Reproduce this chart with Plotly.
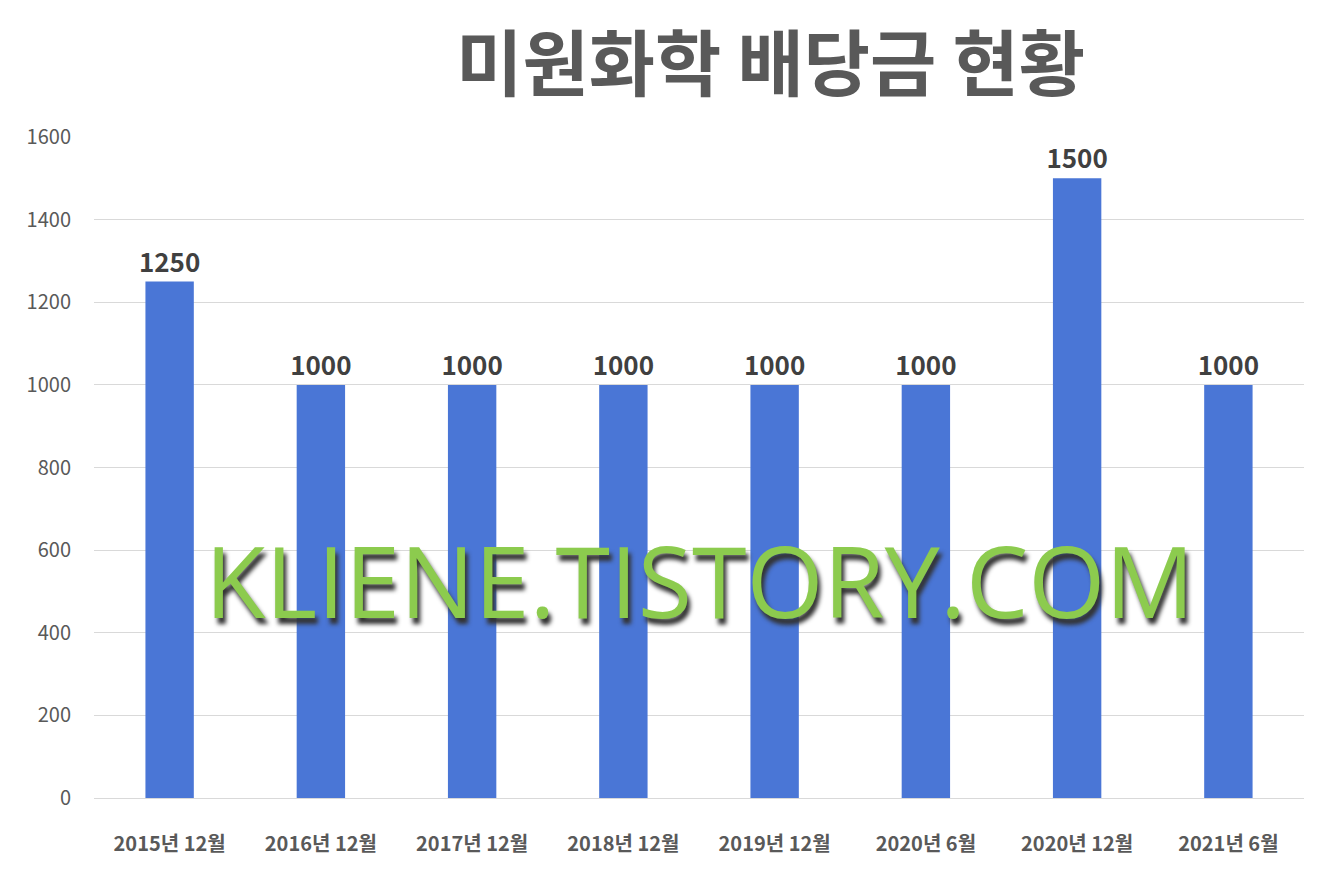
import plotly.graph_objects as go

periods = ["2015년 12월", "2016년 12월", "2017년 12월", "2018년 12월",
           "2019년 12월", "2020년 6월", "2020년 12월", "2021년 6월"]
dividends = [1250, 1000, 1000, 1000, 1000, 1000, 1500, 1000]
y_ticks = [0, 200, 400, 600, 800, 1000, 1200, 1400, 1600]

font = "Noto Sans CJK KR"

fig = go.Figure(go.Bar(
    x=periods, y=dividends,
    marker=dict(color="#4A76D6", line=dict(width=0)),
    text=dividends, textposition="outside", cliponaxis=False,
    constraintext="none",
    textfont=dict(family=font, size=26, color="#404040", weight="bold"),
))

fig.update_layout(
    width=1338, height=881,
    margin=dict(l=86, r=42, t=129, b=91),
    paper_bgcolor="white", plot_bgcolor="white",
    bargap=0.68, showlegend=False,
    title=dict(text="<b>미원화학 배당금 현황</b>", x=0.57, xanchor="center",
               y=0.935, yanchor="middle",
               font=dict(family=font, size=72, color="#595959")),
    xaxis=dict(tickfont=dict(family=font, size=20, color="#595959", weight="bold"),
               showline=True, linecolor="#D9D9D9", ticks="", ticklabelstandoff=28),
    yaxis=dict(range=[0, 1600], tickvals=y_ticks, gridcolor="#D9D9D9",
               tickfont=dict(family=font, size=20, color="#595959"),
               zeroline=False, ticklabelstandoff=22),
    annotations=[dict(
        text="KLIENE.TISTORY.COM", xref="paper", yref="paper",
        x=0.5, y=0.33, xanchor="center", yanchor="middle", showarrow=False,
        font=dict(family="Open Sans", size=99, color="#8CCB4E",
                  shadow="3px 6px 4px #333333"),
    )],
)

fig.write_html("out.html")
